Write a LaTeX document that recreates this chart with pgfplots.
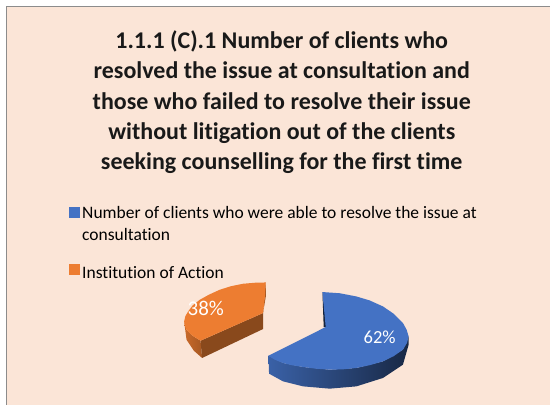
\documentclass[border=0pt]{standalone}
\usepackage{pgfplots}
\pgfplotsset{compat=1.18}
\usepackage{fontspec}
\setmainfont[Ligatures=NoCommon]{Carlito}
\definecolor{bgc}{HTML}{FBE5D7}
\definecolor{bluetop}{HTML}{4472C4}
\definecolor{orangetop}{HTML}{ED7D31}
\begin{document}
\begin{tikzpicture}
\begin{axis}[
  scale only axis, width=550pt, height=405pt,
  xmin=0, xmax=550, ymin=0, ymax=405, y dir=reverse,
  hide axis, clip=false,
  legend cell align=left,
  legend style={at={(axis cs:66,204)},anchor=north west,draw=none,fill=none,
    font=\fontsize{17.5pt}{22pt}\selectfont,
    nodes={align=left,inner xsep=2pt,inner ysep=0pt},
    row sep=22pt},
  legend image code/.code={},
]
\fill[white] (axis cs:0,0) rectangle (axis cs:550,405);
\fill[bgc] (axis cs:7,6) rectangle (axis cs:550,405);
\draw[color=black!45,line width=1pt] (axis cs:7,405) -- (axis cs:7,6) -- (axis cs:550,6);

% blue slice: side wall
\addplot[forget plot,draw=none,left color=bluetop!85!black,middle color=bluetop!45!black,right color=bluetop!35!black] coordinates {
 (268.7,356) (283.3,363.3) (303.3,367.3) (330,370) (356.7,368.3) (383.3,361.7) (403.3,350) (409,336.7)
 (409,345) (403.3,365) (383.3,378.3) (356.7,386.7) (330,389) (303.3,386.7) (283.3,381.7) (269.3,374)} -- cycle;
\addplot[forget plot,fill=bluetop!30!black,draw=none] coordinates {(322.7,292.3) (325,310) (326.5,327.3) (324,327.3)} -- cycle;
% orange slice: side walls
\addplot[forget plot,draw=none,left color=orangetop!85!black,right color=orangetop!70!black] coordinates {
 (184.3,321.7) (186.7,330) (192.7,336) (200.7,341) (202.3,358.3) (194,351) (186.7,340)} -- cycle;
\addplot[forget plot,fill=orangetop!58!black,draw=none] coordinates {(200.7,341) (202.3,358.3) (263.3,329.3) (263.3,313.3)} -- cycle;
\addplot[forget plot,fill=orangetop!70!black,draw=none] coordinates {(266,282.7) (266,297) (263.3,313.3)} -- cycle;

% top faces (legend series)
\addplot[fill=bluetop,draw=none,
  legend image code/.code={\fill[bluetop] (-0.1cm,0.2cm) rectangle (0.29cm,0.59cm);}] coordinates {
 (322.7,292.3) (340,293.5) (356.7,296.7) (370,300.7) (383.3,306.7) (394,314) (403.3,323.3) (407,330) (409,336.7)
 (407.5,343) (403.3,350) (394,356.5) (383.3,361.7) (370,365.5) (356.7,368.3) (343,369.7) (330,370) (316,369)
 (303.3,367.3) (292,365.5) (283.3,363.3) (275,360) (268.7,356) (326,327.3)} -- cycle;
\addlegendentry{Number of clients who were able to resolve the issue at\\consultation}
\addplot[fill=orangetop,draw=none,
  legend image code/.code={\fill[orangetop] (-0.1cm,-0.05cm) rectangle (0.29cm,0.34cm);}] coordinates {
 (266,282.7) (255,283) (243.3,284) (231,286.5) (220,290) (209,295) (200,300) (193,305.5) (188.3,311.7) (185.5,316.5) (184.3,321.7)
 (185,326) (186.7,330) (189.5,333) (192.7,336) (200.7,341) (263.3,313.3) (265,298)} -- cycle;
\addlegendentry{Institution of Action}

\node[font=\fontsize{21pt}{24pt}\selectfont,text=white,anchor=center] at (axis cs:206,309) {38\%};
\node[font=\fontsize{18.5pt}{22pt}\selectfont,text=white,anchor=center] at (axis cs:380,338) {62\%};
\node[font=\bfseries\fontsize{24pt}{30.4pt}\selectfont,align=center,anchor=north,text=black!90] at (axis cs:282,27)
 {1.1.1 (C).1 Number of clients who\\resolved the issue at consultation and\\those who failed to resolve their issue\\without litigation out of the clients\\seeking counselling for the first time};
\end{axis}
\end{tikzpicture}
\end{document}
